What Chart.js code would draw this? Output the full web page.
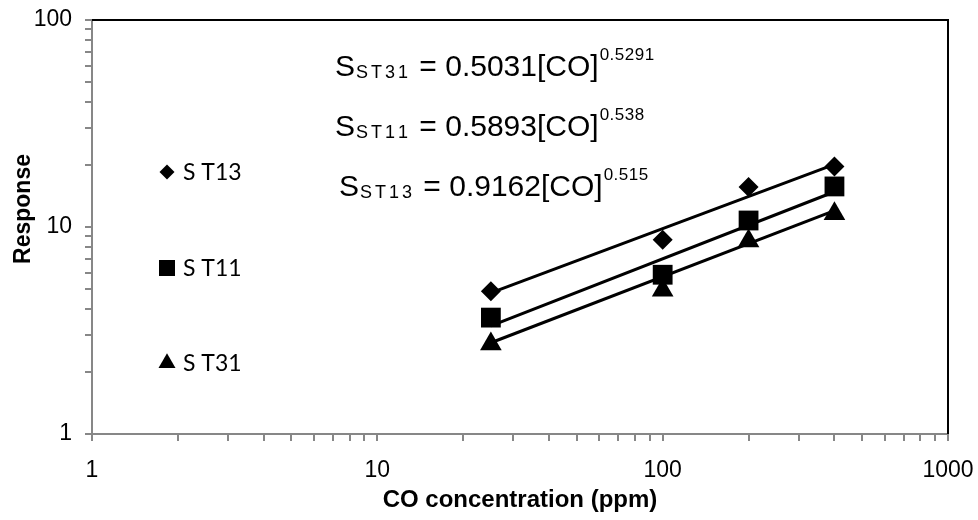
<!DOCTYPE html>
<html>
<head>
<meta charset="utf-8">
<script src="https://cdn.jsdelivr.net/npm/chart.js@4.4.0/dist/chart.umd.min.js"></script>
<style>
  html, body { margin: 0; padding: 0; background: #fff; }
</style>
</head>
<body>
<canvas id="response-chart" width="978" height="520"></canvas>
<script>
// sensor response vs CO concentration
var concentration = [25, 100, 200, 400];
var st13 = [4.89, 8.68, 15.6, 19.6];
var st11 = [3.65, 5.88, 10.75, 15.7];
var st31 = [2.72, 4.95, 8.55, 11.6];

// power law fit lines, end points
var fitRange = [25, 400];
var fitST13 = [4.81, 20.05];
var fitST11 = [3.33, 14.8];
var fitST31 = [2.76, 12.0];

var xTickLabels = [1, 10, 100, 1000];
var yTickLabels = [1, 10, 100];

var seriesNames = ['S T13', 'S T11', 'S T31'];
var seriesStyles = ['rectRot', 'rect', 'triangle'];

var eqSub = ['ST31', 'ST11', 'ST13'];
var eqCoef = ['0.5031', '0.5893', '0.9162'];
var eqExp = ['0.5291', '0.538', '0.515'];

var sans = '"Liberation Sans", Arial, sans-serif';

function points(xs, ys) {
  return xs.map(function (x, i) { return { x: x, y: ys[i] }; });
}

function decadeTicks(min, max) {
  var t = [];
  for (var d = min; d < max; d *= 10) {
    for (var k = 1; k < 10; k++) t.push({ value: d * k });
  }
  t.push({ value: max });
  return t;
}

function spacedText(ctx, text, x, y, spacing) {
  for (var i = 0; i < text.length; i++) {
    ctx.fillText(text[i], x, y);
    x += ctx.measureText(text[i]).width + spacing;
  }
  return x;
}

var markerSize = { rectRot: 10, rect: 14, triangle: 12.5 };
var legendSize = { rectRot: 7.5, rect: 11.3, triangle: 9.8 };

var extras = {
  id: 'extras',
  afterDraw: function (chart) {
    var ctx = chart.ctx;
    var a = chart.chartArea;
    ctx.save();

    // plot frame, top and right
    ctx.strokeStyle = '#000';
    ctx.lineWidth = 2;
    ctx.beginPath();
    ctx.moveTo(a.left, a.top);
    ctx.lineTo(a.right, a.top);
    ctx.lineTo(a.right, a.bottom);
    ctx.stroke();

    ctx.fillStyle = '#000';
    ctx.textAlign = 'left';
    ctx.textBaseline = 'alphabetic';

    // fit equations
    var eqX = [335, 335, 339];
    var eqY = [76, 136, 196];
    for (var i = 0; i < eqSub.length; i++) {
      var x = eqX[i], y = eqY[i];
      ctx.font = '30px ' + sans;
      ctx.fillText('S', x, y);
      x += ctx.measureText('S').width;
      ctx.font = '18px ' + sans;
      x = spacedText(ctx, eqSub[i], x + 1, y + 2, 3);
      ctx.font = '30px ' + sans;
      var mid = ' = ' + eqCoef[i] + '[CO]';
      ctx.fillText(mid, x, y);
      x += ctx.measureText(mid).width;
      ctx.font = '17px ' + sans;
      spacedText(ctx, eqExp[i], x + 1, y - 16, 0.5);
    }

    // legend
    var legY = [172, 268, 363];
    ctx.font = '23px Lato, "Open Sans", sans-serif';
    ctx.textBaseline = 'middle';
    for (var j = 0; j < seriesNames.length; j++) {
      Chart.helpers.drawPoint(ctx, {
        pointStyle: seriesStyles[j],
        radius: legendSize[seriesStyles[j]],
        rotation: 0,
        borderWidth: 0
      }, 167, legY[j]);
      ctx.fillStyle = '#000';
      ctx.fillText(seriesNames[j], 183, legY[j] + 1);
    }

    // axis titles
    ctx.textBaseline = 'alphabetic';
    ctx.textAlign = 'center';
    ctx.font = 'bold 24px ' + sans;
    ctx.fillText('CO concentration (ppm)', (a.left + a.right) / 2, 507);
    ctx.translate(30, 209);
    ctx.rotate(-Math.PI / 2);
    ctx.font = 'bold 23px ' + sans;
    ctx.fillText('Response', 0, 0);
    ctx.restore();
  }
};

function markerSet(label, ys, style) {
  return {
    label: label,
    data: points(concentration, ys),
    showLine: false,
    pointStyle: style,
    pointRadius: markerSize[style],
    pointHoverRadius: markerSize[style],
    pointBackgroundColor: '#000',
    pointBorderWidth: 0,
    order: 0
  };
}

function fitSet(ys) {
  return {
    label: 'fit',
    data: points(fitRange, ys),
    showLine: true,
    borderColor: '#000',
    borderWidth: 3,
    pointRadius: 0,
    order: 1
  };
}

var axisGrid = { drawOnChartArea: false, drawTicks: true, tickLength: 7, color: '#878787', lineWidth: 2 };
var axisBorder = { color: '#878787', width: 2 };

var chartEl = document.getElementById('response-chart');
var responseChart = new Chart(chartEl, {
  type: 'scatter',
  data: {
    datasets: [
      markerSet(seriesNames[0], st13, seriesStyles[0]),
      markerSet(seriesNames[1], st11, seriesStyles[1]),
      markerSet(seriesNames[2], st31, seriesStyles[2]),
      fitSet(fitST13),
      fitSet(fitST11),
      fitSet(fitST31)
    ]
  },
  options: {
    responsive: false,
    animation: false,
    layout: { padding: { top: 20, right: 30, left: 0, bottom: 0 } },
    scales: {
      x: {
        type: 'logarithmic',
        min: 1,
        max: 1000,
        grid: axisGrid,
        border: axisBorder,
        afterBuildTicks: function (scale) { scale.ticks = decadeTicks(1, 1000); },
        afterFit: function (scale) {
          scale.height = 86;
          scale.paddingLeft = 0;
          scale.paddingRight = 0;
        },
        ticks: {
          autoSkip: false,
          maxRotation: 0,
          padding: 16,
          color: '#000',
          font: { family: sans, size: 23 },
          callback: function (v) { return xTickLabels.indexOf(v) >= 0 ? String(v) : ''; }
        }
      },
      y: {
        type: 'logarithmic',
        min: 1,
        max: 100,
        grid: axisGrid,
        border: axisBorder,
        afterBuildTicks: function (scale) { scale.ticks = decadeTicks(1, 100); },
        afterFit: function (scale) {
          scale.width = 92;
          scale.paddingTop = 0;
          scale.paddingBottom = 0;
        },
        ticks: {
          autoSkip: false,
          padding: 13,
          color: '#000',
          font: { family: sans, size: 23 },
          callback: function (v) { return yTickLabels.indexOf(v) >= 0 ? String(v) : ''; }
        }
      }
    },
    plugins: {
      legend: { display: false },
      tooltip: { enabled: false }
    }
  },
  plugins: [extras]
});
</script>
</body>
</html>
